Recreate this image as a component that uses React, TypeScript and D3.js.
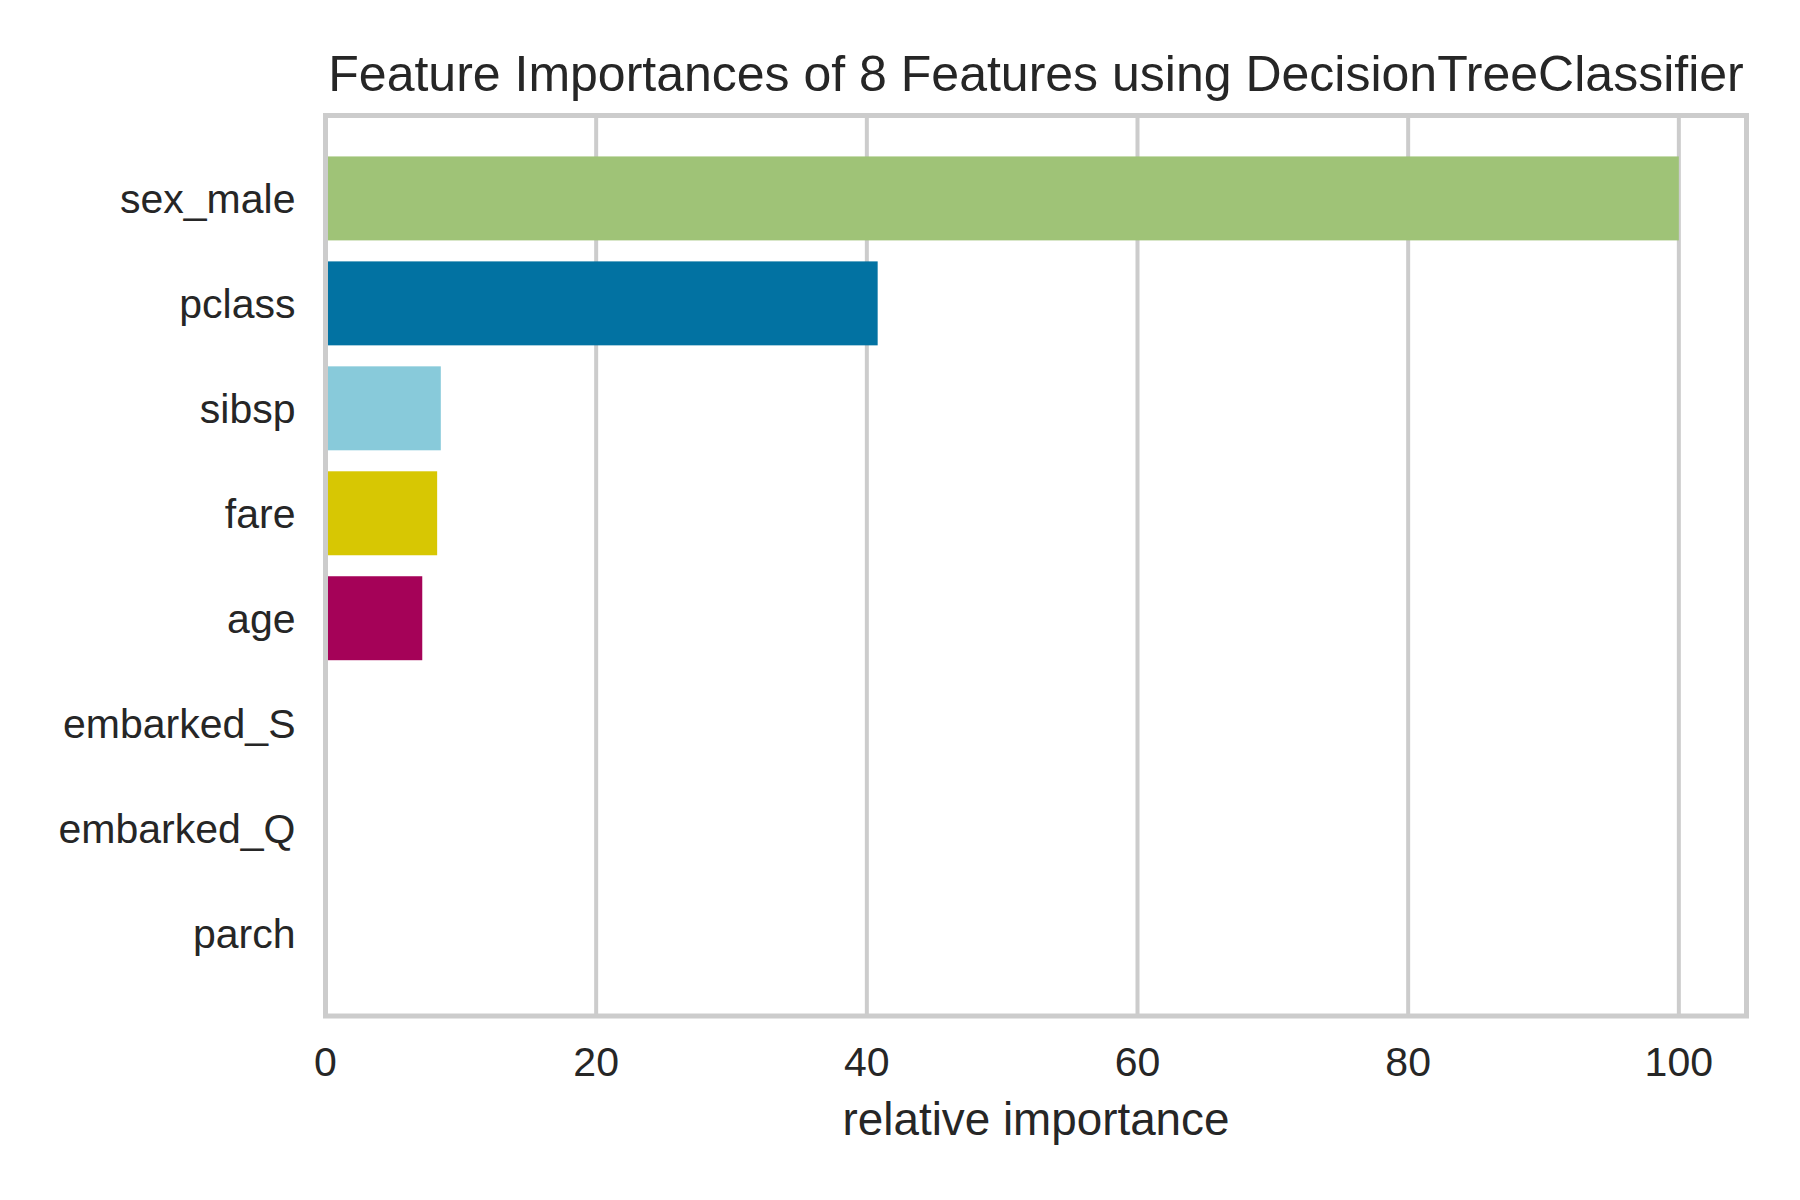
import React from "react";
import * as d3 from "d3";

const features = ["sex_male", "pclass", "sibsp", "fare", "age", "embarked_S", "embarked_Q", "parch"];
const importances = [100, 40.8, 8.52, 8.25, 7.15, 0, 0, 0];
const barColors = ["#9fc377", "#0272a2", "#88cada", "#d7c703", "#a50258", "#ca0b03", "#0272a2", "#9fc377"];
const xTicks = [0, 20, 40, 60, 80, 100];

const W = 1800, H = 1200;
const margin = { left: 325.5, right: 1746.5, top: 115.5, bottom: 1016 };
const textColor = "#262626";
const gridColor = "#cccccc";
const font = "'Liberation Sans', Arial, sans-serif";

const App = () => {
  const ref = React.useRef<SVGSVGElement>(null);

  React.useEffect(() => {
    const svg = d3.select(ref.current);
    svg.selectAll("*").remove();

    const xScale = d3.scaleLinear([0, 105], [margin.left, margin.right]);
    // matplotlib barh: positions 0..n-1, height 0.8, 5% margins
    const n = features.length;
    const pad = (n - 1 + 0.8) * 0.05 + 0.4;
    const yScale = d3.scaleLinear([-pad, n - 1 + pad], [margin.top, margin.bottom]);
    const barH = yScale(0.8) - yScale(0);

    // grid
    svg.append("g")
      .selectAll("line")
      .data(xTicks)
      .join("line")
      .attr("x1", d => xScale(d)).attr("x2", d => xScale(d))
      .attr("y1", margin.top).attr("y2", margin.bottom)
      .attr("stroke", gridColor).attr("stroke-width", 4);

    // bars
    svg.append("g")
      .selectAll("rect")
      .data(importances)
      .join("rect")
      .attr("x", xScale(0))
      .attr("y", (d, i) => yScale(i) - barH / 2)
      .attr("width", d => xScale(d) - xScale(0))
      .attr("height", barH)
      .attr("fill", (d, i) => barColors[i]);

    // frame
    svg.append("rect")
      .attr("x", margin.left).attr("y", margin.top)
      .attr("width", margin.right - margin.left)
      .attr("height", margin.bottom - margin.top)
      .attr("fill", "none").attr("stroke", gridColor).attr("stroke-width", 5);

    // x tick labels
    svg.append("g")
      .selectAll("text")
      .data(xTicks)
      .join("text")
      .attr("x", d => xScale(d)).attr("y", 1076)
      .attr("text-anchor", "middle")
      .attr("font-size", 41).attr("font-family", font).attr("fill", textColor)
      .text(d => d);

    // y tick labels
    svg.append("g")
      .selectAll("text")
      .data(features)
      .join("text")
      .attr("x", 295.5).attr("y", (d, i) => yScale(i) + 15)
      .attr("text-anchor", "end")
      .attr("font-size", 41).attr("font-family", font).attr("fill", textColor)
      .text(d => d);

    svg.append("text")
      .attr("x", (margin.left + margin.right) / 2).attr("y", 1135)
      .attr("text-anchor", "middle")
      .attr("font-size", 45.8).attr("font-family", font).attr("fill", textColor)
      .text("relative importance");

    svg.append("text")
      .attr("x", (margin.left + margin.right) / 2).attr("y", 91)
      .attr("text-anchor", "middle")
      .attr("font-size", 50).attr("font-family", font).attr("fill", textColor)
      .text("Feature Importances of 8 Features using DecisionTreeClassifier");
  }, []);

  return (
    <svg ref={ref} width={W} height={H}
      style={{ position: "absolute", left: 0, top: 0, background: "#fff" }} />
  );
};

export default App;
